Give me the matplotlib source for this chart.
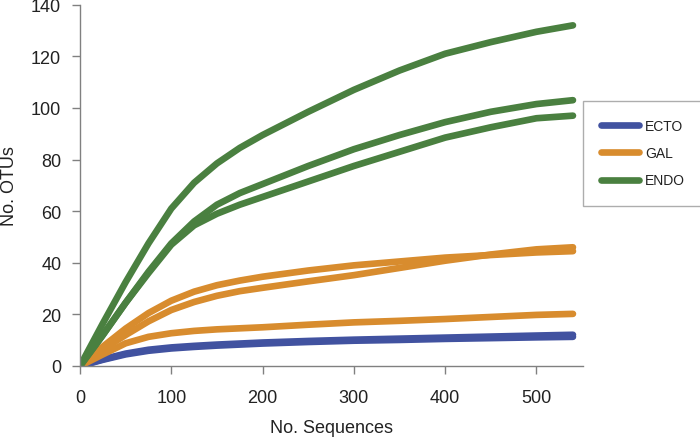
import matplotlib
matplotlib.use("Agg")
import matplotlib.pyplot as plt
from matplotlib.lines import Line2D

plt.rcParams['font.family'] = ['Liberation Sans', 'DejaVu Sans']

x = [0, 25, 50, 75, 100, 125, 150, 175, 200, 250, 300, 350, 400, 450, 500, 540]

endo_1 = [0, 16.5, 32.5, 47.5, 61, 71, 78.5, 84.5, 89.5, 98.5, 107, 114.5, 121, 125.5, 129.5, 132]
endo_2 = [0, 12, 24.5, 36.5, 47.5, 56, 62.5, 67, 70.5, 77.5, 84, 89.5, 94.5, 98.5, 101.5, 103]
endo_3 = [0, 12, 24.5, 36, 47, 54.5, 59, 62.5, 65.5, 71.5, 77.5, 83, 88.5, 92.5, 96, 97]

gal_1 = [0, 7.5, 14.5, 20.5, 25.3, 28.8, 31.3, 33.1, 34.6, 37, 39, 40.5, 42, 43, 44, 44.5]
gal_2 = [0, 6.5, 12, 17.3, 21.7, 24.8, 27.2, 29, 30.3, 32.8, 35.2, 38, 40.8, 43.2, 45.2, 46]
gal_3 = [0, 4.5, 8.8, 11.3, 12.7, 13.6, 14.2, 14.6, 15, 16, 16.9, 17.5, 18.2, 19, 19.8, 20.2]

ecto_1 = [0, 2.6, 4.8, 6.3, 7.2, 7.8, 8.3, 8.7, 9.1, 9.7, 10.2, 10.6, 11.0, 11.4, 11.8, 12.1]
ecto_2 = [0, 2.4, 4.5, 5.9, 6.8, 7.4, 7.9, 8.3, 8.7, 9.3, 9.8, 10.1, 10.5, 10.8, 11.1, 11.3]

groups = ["ECTO", "GAL", "ENDO"]
colors = {"ECTO": "#4152a0", "GAL": "#d88c2e", "ENDO": "#4a8040"}
series = {"ECTO": [ecto_1, ecto_2], "GAL": [gal_1, gal_2, gal_3], "ENDO": [endo_1, endo_2, endo_3]}

x_ticks = [0, 100, 200, 300, 400, 500]
y_ticks = [0, 20, 40, 60, 80, 100, 120, 140]

fig = plt.figure(figsize=(7, 4.39), dpi=100)
ax_h = 367 - 5.7
ax = fig.add_axes([80/700, 72/439, (583-80)/700, ax_h/439])

lw = 4.8
for g in groups:
    for s in series[g]:
        ax.plot(x, s, color=colors[g], lw=lw, solid_capstyle='round', solid_joinstyle='round')

ax.set_xlim(0, 551)
ax.set_ylim(0, 140)
ax.set_xticks(x_ticks)
ax.set_yticks(y_ticks)
for sp in ['top', 'right']:
    ax.spines[sp].set_visible(False)
for sp in ['left', 'bottom']:
    ax.spines[sp].set_color('#808080')
    ax.spines[sp].set_linewidth(1.0)
ax.tick_params(axis='both', direction='out', length=6, width=1, color='#808080',
               labelsize=13, labelcolor='#222222')
ax.tick_params(axis='x', pad=10.5)
ax.tick_params(axis='y', pad=7.5)
ax.set_xlabel("No. Sequences", fontsize=13, color='#222222')
ax.set_ylabel("No. OTUs", fontsize=13, color='#222222')
ax.xaxis.set_label_coords(0.5, -(420 - 367) / ax_h)
ax.yaxis.set_label_coords((18 - 80) / 503, 0.5)

handles = [Line2D([0], [0], color=colors[g], lw=lw, solid_capstyle='round') for g in groups]
leg = fig.legend(handles, groups, loc='upper left', bbox_to_anchor=(583/700, 1 - 102/439),
                 fontsize=10, frameon=True, fancybox=False, edgecolor='#999999',
                 handlelength=2.7, handletextpad=0.45, labelspacing=0.95, borderpad=1.3,
                 borderaxespad=0)
leg.get_frame().set_linewidth(1.0)
for t in leg.get_texts():
    t.set_color('#222222')

fig.savefig("out.png", dpi=100)
